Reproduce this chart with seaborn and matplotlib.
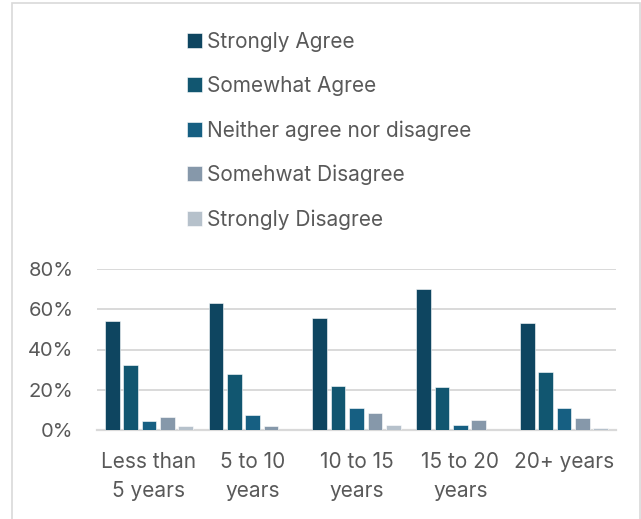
import matplotlib
matplotlib.use("Agg")
import matplotlib.pyplot as plt
from matplotlib.patches import Rectangle
import seaborn as sns
import pandas as pd

# Survey responses by years of experience (share of respondents)
tenure = ["Less than\n5 years", "5 to 10\nyears", "10 to 15\nyears", "15 to 20\nyears", "20+ years"]
responses = ["Strongly Agree", "Somewhat Agree", "Neither agree nor disagree",
             "Somehwat Disagree", "Strongly Disagree"]
strongly_agree = [0.542, 0.630, 0.556, 0.701, 0.531]
somewhat_agree = [0.323, 0.277, 0.220, 0.214, 0.289]
neither = [0.043, 0.073, 0.111, 0.025, 0.109]
somewhat_disagree = [0.065, 0.018, 0.083, 0.051, 0.060]
strongly_disagree = [0.021, 0.0, 0.026, 0.0, 0.010]

palette = ["#0E4560", "#115670", "#165F82", "#8698AA", "#B6C1CB"]

rows = []
for resp, vals in zip(responses, [strongly_agree, somewhat_agree, neither,
                                  somewhat_disagree, strongly_disagree]):
    for t, v in zip(tenure, vals):
        rows.append({"tenure": t, "response": resp, "share": v})
df = pd.DataFrame(rows)

sns.set_theme(style="white")
plt.rcParams["font.family"] = ["Inter", "DejaVu Sans"]
text_color = "#595959"
grid_color = "#D9D9D9"

fig = plt.figure(figsize=(6.41, 5.19), dpi=100)
ax = fig.add_axes([97 / 641, 89 / 519, 519 / 641, 161 / 519])

sns.barplot(data=df, x="tenure", y="share", hue="response", order=tenure,
            hue_order=responses, palette=palette, saturation=1, width=0.885,
            gap=0.2, edgecolor="white", linewidth=0.4, ax=ax, zorder=3)

ax.set_ylim(0, 0.8)
ax.set_xlim(-0.5, 4.5)
ax.set_yticks([0, 0.2, 0.4, 0.6, 0.8])
ax.set_yticklabels(["0%", "20%", "40%", "60%", "80%"])
ax.set_xticks(range(len(tenure)))
ax.set_xticklabels(tenure, linespacing=1.52, multialignment="center")
ax.set_xlabel("")
ax.set_ylabel("")
ax.yaxis.grid(True, color=grid_color, linewidth=1.4, zorder=0)
ax.set_axisbelow(True)
for side in ["top", "right", "left"]:
    ax.spines[side].set_visible(False)
ax.spines["bottom"].set_color(grid_color)
ax.spines["bottom"].set_linewidth(1.6)
ax.tick_params(axis="y", length=0, pad=17, labelsize=14.5, labelcolor=text_color)
ax.tick_params(axis="x", length=0, pad=16, labelsize=15, labelcolor=text_color)

leg = ax.get_legend()
handles = leg.legend_handles
leg.remove()
fig.legend(handles, responses, loc="upper left",
           bbox_to_anchor=(187 / 641, 1 - 32 / 519), frameon=False,
           fontsize=15, labelcolor=text_color, handlelength=0.72,
           handleheight=0.72, handletextpad=0.24, labelspacing=1.155,
           borderpad=0, borderaxespad=0)

# chart frame
fig.patches.append(Rectangle((12 / 641, -0.05), 628 / 641, 1.05 - 3 / 519,
                             transform=fig.transFigure, fill=False,
                             edgecolor=grid_color, linewidth=1.2))

fig.savefig("out.png", dpi=100)
